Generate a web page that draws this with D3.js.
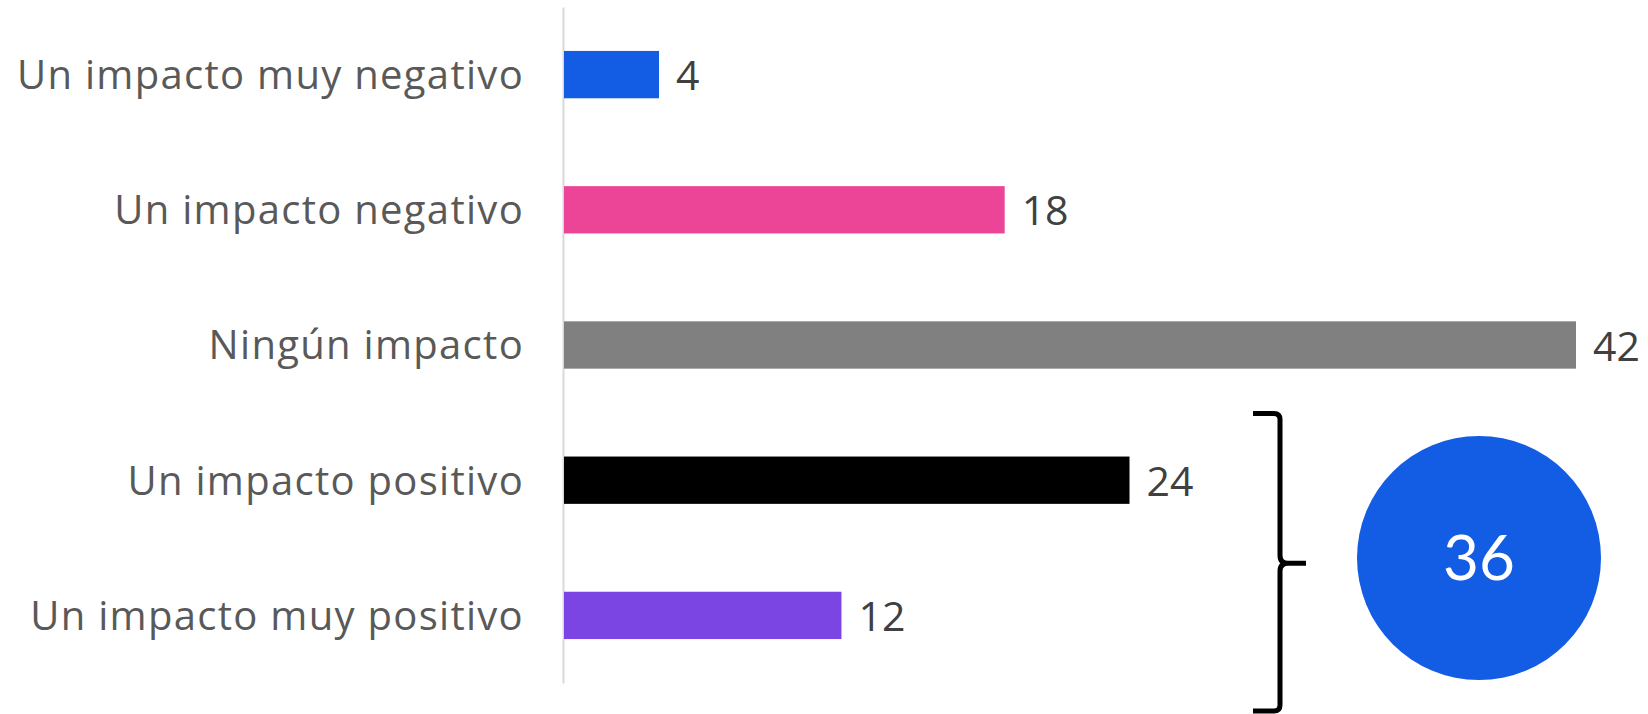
<!DOCTYPE html>
<html>
<head>
<meta charset="utf-8">
<script src="https://cdn.jsdelivr.net/npm/d3@7"></script>
<style>
  body { margin: 0; background: #fff; }
  svg { display: block; }
</style>
</head>
<body>
<svg id="chart" width="1648" height="714"></svg>
<script>
// data (bar lengths; labels show them rounded)
let categories = ["Un impacto muy negativo", "Un impacto negativo", "Ningún impacto", "Un impacto positivo", "Un impacto muy positivo"];
let values = [4.0, 18.4, 42.2, 23.6, 11.6];
let bar_colors = ["#135ce4", "#ec4497", "#808080", "#000000", "#7a45e3"];
// the bracket groups the two positive answers
let grouped = ["Un impacto positivo", "Un impacto muy positivo"];

let svg = d3.select("#chart");

let x = d3.scaleLinear().domain([0, 42.2]).range([563, 1576]);
let y = d3.scaleBand().domain(categories).range([7, 683])
    .paddingInner(0.65).paddingOuter(0.325);

// category axis (vertical line only, no ticks)
svg.append("g")
    .attr("transform", "translate(" + x(0) + ",0)")
    .call(d3.axisLeft(y).tickSize(0).tickFormat(""))
    .call(g => g.select(".domain").attr("stroke", "#d9d9d9").attr("stroke-width", 2));

svg.append("g")
    .selectAll("rect").data(values).join("rect")
    .attr("x", x(0) + 1)
    .attr("y", (d, i) => y(categories[i]))
    .attr("width", d => x(d) - x(0) - 1)
    .attr("height", y.bandwidth())
    .attr("fill", (d, i) => bar_colors[i]);

svg.append("g")
    .selectAll("text").data(categories).join("text")
    .attr("x", 524)
    .attr("y", d => y(d) + y.bandwidth() / 2)
    .attr("dy", "0.36em")
    .attr("text-anchor", "end")
    .style("font-family", "'Open Sans', sans-serif")
    .style("font-size", "40px")
    .style("letter-spacing", "1.3px")
    .attr("fill", "#595959")
    .text(d => d);

svg.append("g")
    .selectAll("text").data(values).join("text")
    .attr("x", d => x(d) + 17)
    .attr("y", (d, i) => y(categories[i]) + y.bandwidth() / 2)
    .attr("dy", "0.38em")
    .style("font-family", "'Open Sans', sans-serif")
    .style("font-size", "41px")
    .attr("fill", "#404040")
    .text(d => Math.round(d));

// bracket + circle with the summed positive share
let br_top = y(grouped[0]) - 43;
let br_bottom = 711;
let br_mid = (br_top + br_bottom) / 2 + 1;
let bx = 1280;
let bracket = d3.path();
bracket.moveTo(1253, br_top);
bracket.lineTo(bx - 6, br_top);
bracket.quadraticCurveTo(bx, br_top, bx, br_top + 6);
bracket.lineTo(bx, br_mid - 8);
bracket.quadraticCurveTo(bx, br_mid, bx + 8, br_mid);
bracket.lineTo(1306, br_mid);
bracket.moveTo(bx + 8, br_mid);
bracket.quadraticCurveTo(bx, br_mid, bx, br_mid + 8);
bracket.lineTo(bx, br_bottom - 6);
bracket.quadraticCurveTo(bx, br_bottom, bx - 6, br_bottom);
bracket.lineTo(1253, br_bottom);
svg.append("path")
    .attr("d", bracket.toString())
    .attr("fill", "none")
    .attr("stroke", "#000")
    .attr("stroke-width", 5);

let total = d3.sum(grouped, c => Math.round(values[categories.indexOf(c)]));
svg.append("circle")
    .attr("cx", 1479)
    .attr("cy", 558)
    .attr("r", 122)
    .attr("fill", "#135ce4");
svg.append("text")
    .attr("x", 1479)
    .attr("y", 558)
    .attr("dy", "0.36em")
    .attr("text-anchor", "middle")
    .style("font-family", "Lato, sans-serif")
    .style("font-size", "62px")
    .attr("fill", "#fff")
    .text(total);
</script>
</body>
</html>
